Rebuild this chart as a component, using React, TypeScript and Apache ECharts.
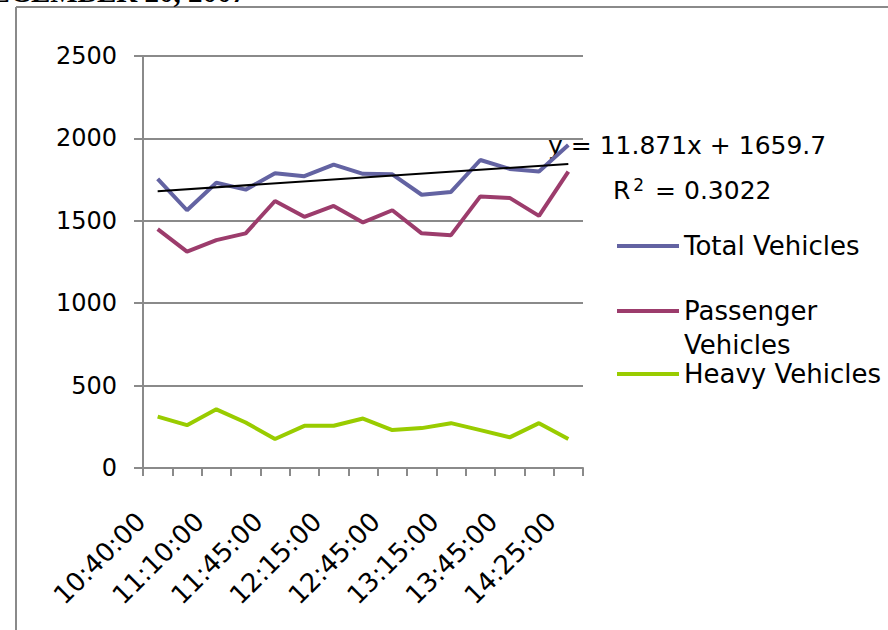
import React, { useEffect, useRef } from "react";
import * as echarts from "echarts";

const categories = [
  "10:40:00", "10:55:00", "11:10:00", "11:30:00", "11:45:00", "12:00:00", "12:15:00", "12:30:00",
  "12:45:00", "13:00:00", "13:15:00", "13:30:00", "13:45:00", "14:05:00", "14:25:00",
];
const totalVehicles = [1755, 1564, 1731, 1689, 1789, 1771, 1841, 1785, 1782, 1658, 1675, 1869, 1815, 1799, 1960];
const passengerVehicles = [1449, 1313, 1383, 1424, 1620, 1524, 1590, 1490, 1564, 1424, 1413, 1648, 1639, 1530, 1799];
const heavyVehicles = [312, 260, 356, 276, 176, 256, 256, 300, 230, 242, 272, 230, 186, 272, 176];
// Linear trendline of Total Vehicles, endpoints
const trendStart = 1680;
const trendEnd = 1845;
const trendEquation = "y = 11.871x + 1659.7";
const trendR2 = "0.3022";
const seriesNames = ["Total Vehicles", "Passenger Vehicles", "Heavy Vehicles"];
const yMax = 2500;
const yInterval = 500;

const FONT = "DejaVu Sans";
const GREY = "#8a8a8a";

export default function App() {
  const ref = useRef<HTMLDivElement>(null);
  useEffect(() => {
    if (!ref.current) return;
    const chart = echarts.init(ref.current, undefined, { renderer: "svg" });
    const trendData = categories.map((_, i) =>
      i === 0 ? trendStart : i === categories.length - 1 ? trendEnd : null
    );
    const legendCommon = {
      orient: "vertical",
      left: 617,
      itemWidth: 62,
      itemHeight: 4,
      icon: "rect",
      padding: 0,
      selectedMode: false,
      textStyle: { fontFamily: FONT, fontSize: 26, color: "#000", lineHeight: 30 },
    };
    chart.setOption({
      animation: false,
      backgroundColor: "#fff",
      textStyle: { fontFamily: FONT },
      grid: { left: 143, right: 305, top: 56, bottom: 162, containLabel: false, outerBoundsMode: "none" },
      xAxis: {
        type: "category",
        data: categories,
        boundaryGap: true,
        axisLine: { show: true, lineStyle: { color: GREY, width: 2 } },
        axisTick: { show: true, interval: 0, length: 8, lineStyle: { color: GREY, width: 2 } },
        axisLabel: {
          interval: 1,
          rotate: 45,
          margin: 32,
          padding: [0, 24, 0, 0],
          fontFamily: FONT,
          fontSize: 26,
          color: "#000",
        },
        splitLine: { show: false },
      },
      yAxis: {
        type: "value",
        min: 0,
        max: yMax,
        interval: yInterval,
        axisLine: { show: true, lineStyle: { color: GREY, width: 2 } },
        axisTick: { show: true, length: 9, lineStyle: { color: GREY, width: 2 } },
        axisLabel: {
          margin: 26,
          fontFamily: FONT,
          fontSize: 24,
          color: "#000",
          formatter: (v: number) => String(v),
        },
        splitLine: { show: true, lineStyle: { color: GREY, width: 2 } },
      },
      legend: [
        { ...legendCommon, data: [seriesNames[0]], top: 246 - 15 },
        { ...legendCommon, data: [seriesNames[1]], top: 311 - 15, formatter: () => "Passenger" },
        { ...legendCommon, data: [seriesNames[2]], top: 374 - 15 },
      ],
      series: [
        {
          name: seriesNames[0],
          type: "line",
          data: totalVehicles,
          symbol: "none",
          lineStyle: { color: "#6363a2", width: 4 },
          itemStyle: { color: "#6363a2" },
        },
        {
          name: seriesNames[1],
          type: "line",
          data: passengerVehicles,
          symbol: "none",
          lineStyle: { color: "#9c3c6c", width: 4 },
          itemStyle: { color: "#9c3c6c" },
        },
        {
          name: seriesNames[2],
          type: "line",
          data: heavyVehicles,
          symbol: "none",
          lineStyle: { color: "#99cc00", width: 4 },
          itemStyle: { color: "#99cc00" },
        },
        {
          name: "Trend",
          type: "line",
          data: trendData,
          connectNulls: true,
          symbol: "none",
          lineStyle: { color: "#000", width: 2 },
          itemStyle: { color: "#000" },
          z: 5,
        },
      ],
      graphic: [
        {
          type: "line",
          shape: { x1: 16, y1: 7, x2: 888, y2: 7 },
          style: { stroke: GREY, lineWidth: 2 },
        },
        {
          type: "line",
          shape: { x1: 16, y1: 7, x2: 16, y2: 630 },
          style: { stroke: GREY, lineWidth: 2 },
        },
        {
          type: "text",
          x: 246,
          y: 6,
          style: {
            text: "DECEMBER 20, 2007",
            align: "right",
            verticalAlign: "bottom",
            font: "bold 29px 'Liberation Serif'",
            fill: "#000",
          },
        },
        {
          type: "text",
          x: 548,
          y: 145,
          style: {
            text: trendEquation,
            verticalAlign: "middle",
            font: `25px '${FONT}'`,
            fill: "#000",
          },
        },
        {
          type: "text",
          x: 613,
          y: 190,
          style: {
            text: `R{sup|2} = ${trendR2}`,
            verticalAlign: "middle",
            font: `25px '${FONT}'`,
            fill: "#000",
            rich: {
              sup: { fontFamily: FONT, fontSize: 17, verticalAlign: "top", padding: [0, 3, 10, 3], fill: "#000" },
            },
          },
        },
        {
          type: "text",
          x: 684,
          y: 345,
          style: {
            text: "Vehicles",
            verticalAlign: "middle",
            font: `26px '${FONT}'`,
            fill: "#000",
          },
        },
      ],
    });
    return () => chart.dispose();
  }, []);
  return (
    <div
      ref={ref}
      style={{ position: "absolute", left: 0, top: 0, width: 888, height: 630 }}
    />
  );
}
